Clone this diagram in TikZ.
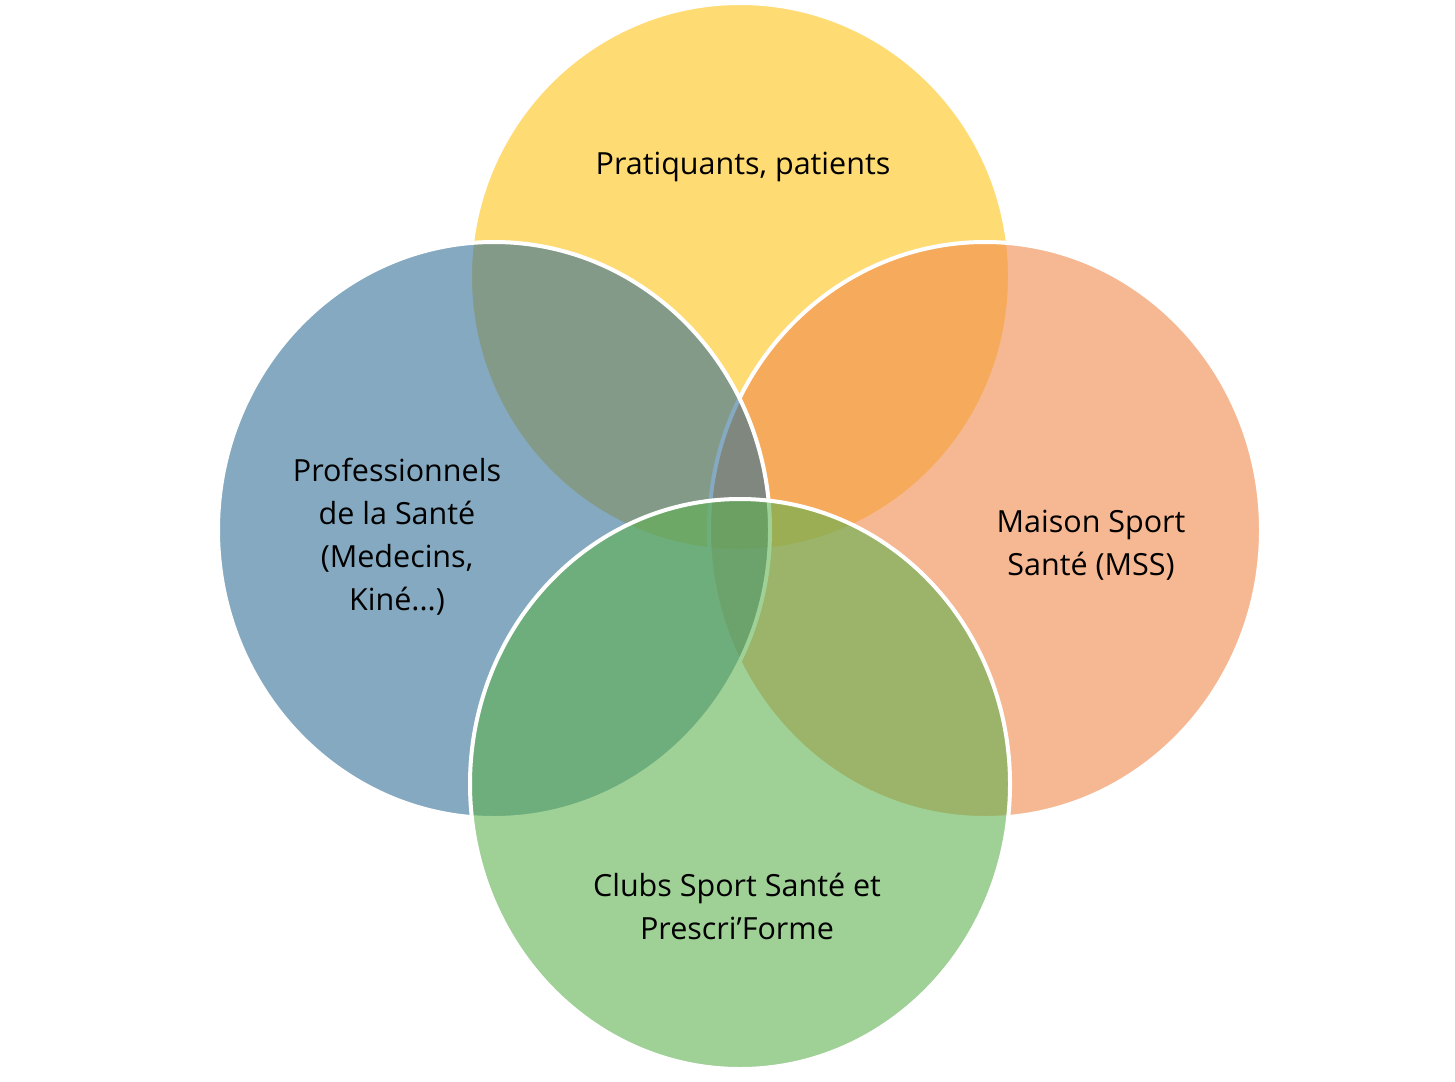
\documentclass[tikz,border=0pt]{standalone}
\usepackage{fontspec}
\setmainfont{Open Sans}
\usetikzlibrary{shapes.geometric}
\begin{document}
\begin{tikzpicture}[x=1pt,y=-1pt,
  circ/.style 2 args={ellipse,minimum width=#1,minimum height=#2,draw=white,line width=4pt,fill opacity=0.6,inner sep=0pt},
  lab/.style={font=\fontsize{30.5}{43}\selectfont,align=center,text=black}]
\useasboundingbox (0,0) rectangle (1455,1081);
\fill[white] (0,0) rectangle (1455,1081);
\node[circ={540pt}{548pt},fill={rgb,255:red,255;green,200;blue,40},fill opacity=0.65] (y) at (740,277) {};
\node[circ={552pt}{576pt},fill={rgb,255:red,240;green,138;blue,75}] (o) at (985,530) {};
\node[circ={552pt}{576pt},fill={rgb,255:red,50;green,112;blue,150}] (b) at (494,530) {};
\node[circ={540pt}{570pt},fill={rgb,255:red,95;green,178;blue,80}] (g) at (740,784) {};
\node[lab] (ty) at (743,167) {Pratiquants, patients};
\node[lab] (to) at (1091,545) {Maison Sport\\Santé (MSS)};
\node[lab] (tb) at (397,537) {Professionnels\\de la Santé\\(Medecins,\\Kiné...)};
\node[lab] (tg) at (737,906) {Clubs Sport Santé et\\Prescri’Forme};
\end{tikzpicture}
\end{document}
